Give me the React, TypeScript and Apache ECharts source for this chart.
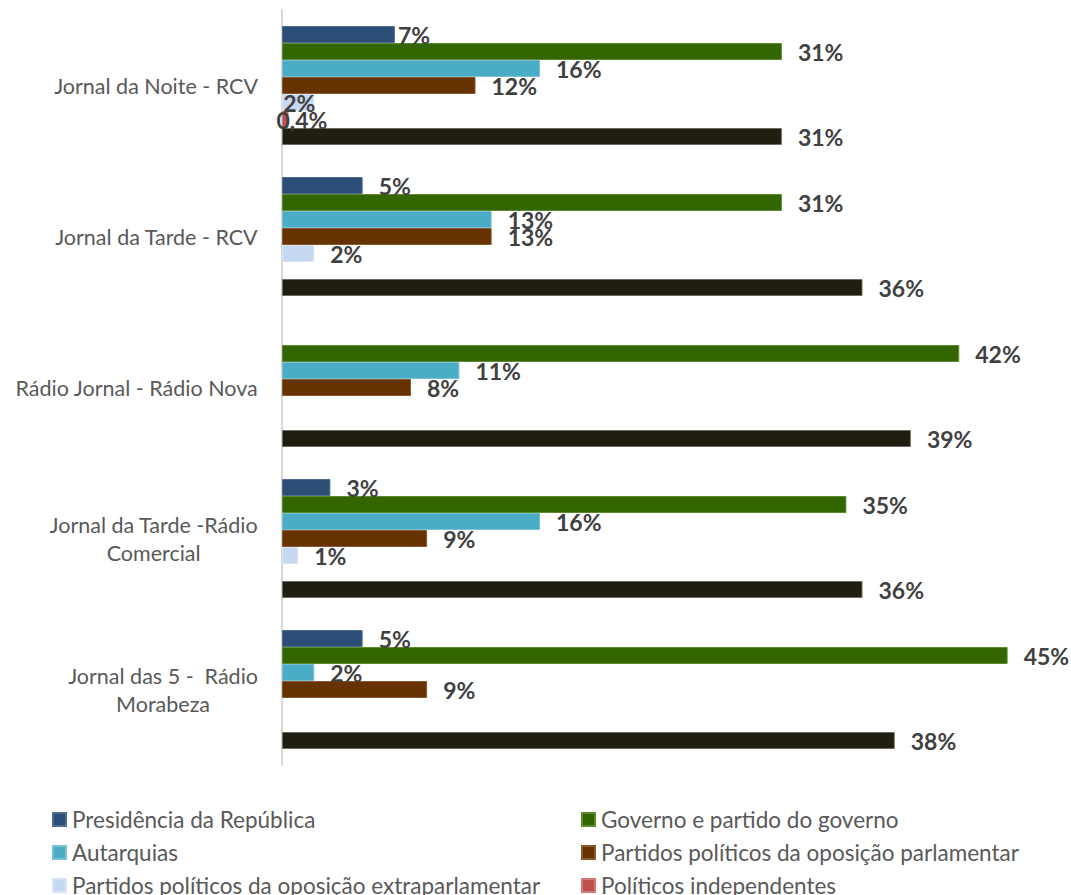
import React, { useEffect, useRef } from "react";
import * as echarts from "echarts";

const categories = [
  "Jornal da Noite - RCV",
  "Jornal da Tarde - RCV",
  "Rádio Jornal - Rádio Nova",
  "Jornal da Tarde -Rádio\nComercial",
  "Jornal das 5 -  Rádio\nMorabeza",
];

const seriesNames = [
  "Presidência da República",
  "Governo e partido do governo",
  "Autarquias",
  "Partidos políticos da oposição parlamentar",
  "Partidos políticos da oposição extraparlamentar",
  "Políticos independentes",
  "Outros",
];

const presidencia = [7, 5, null, 3, 5];
const governo = [31, 31, 42, 35, 45];
const autarquias = [16, 13, 11, 16, 2];
const oposicaoParlamentar = [12, 13, 8, 9, 9];
const oposicaoExtra = [2, 2, null, 1, null];
const independentes = [0.4, null, null, null, null];
const outros = [31, 36, 39, 36, 38];

const seriesValues = [
  presidencia,
  governo,
  autarquias,
  oposicaoParlamentar,
  oposicaoExtra,
  independentes,
  outros,
];

const colors = ["#2C4D75", "#336600", "#4BACC6", "#663300", "#C6D9F1", "#C0504D", "#201D11"];
const borders = ["#4F6C93", "#5E8A2E", "#79C2D6", "#8A5A2E", "#D7E4F5", "#D07A77", "#6E6B62"];

// manual label nudges (series index, category index) -> x offset
const labelNudges: Record<string, number> = { "0-0": -13, "4-0": -47, "5-0": -28 };

const FONT = "Lato, 'Open Sans', sans-serif";

export default function App() {
  const ref = useRef<HTMLDivElement>(null);
  useEffect(() => {
    if (!ref.current) return;
    const chart = echarts.init(ref.current, null, { renderer: "svg" });
    const series = seriesValues.map((vals, si) => ({
      type: "bar",
      name: seriesNames[si],
      barWidth: 17,
      barGap: "0%",
      itemStyle: { color: colors[si], borderColor: borders[si], borderWidth: 1 },
      label: {
        show: true,
        position: "right",
        distance: 16,
        fontFamily: FONT,
        fontSize: 23,
        fontWeight: "bold",
        color: "#404040",
        formatter: (p: any) => `${String(p.value).replace(".", ",")}%`,
      },
      data: vals.map((v, ci) => {
        const nudge = labelNudges[`${si}-${ci}`];
        if (v === null) return null;
        return nudge ? { value: v, label: { offset: [nudge, 0] } } : v;
      }),
    }));
    const legendCommon = {
      orient: "vertical",
      top: 808,
      height: 300,
      padding: 0,
      itemWidth: 13,
      itemHeight: 13,
      itemGap: 10,
      icon: "rect",
      textStyle: { fontFamily: FONT, fontSize: 22.5, color: "#595959", padding: [0, 0, 0, 1], lineHeight: 22 },
    };
    chart.setOption({
      animation: false,
      backgroundColor: "#ffffff",
      grid: { left: 282, top: 10, width: 774, height: 755 },
      xAxis: {
        type: "value",
        min: 0,
        max: 48,
        show: false,
      },
      yAxis: {
        type: "category",
        inverse: true,
        data: categories,
        axisLine: { show: true, lineStyle: { color: "#D9D9D9", width: 2 } },
        axisTick: { show: false },
        splitLine: { show: false },
        axisLabel: {
          margin: 24,
          formatter: (v: string) => v.split("\n").map((l) => `{c|${l}}`).join("\n"),
          rich: {
            c: {
              align: "center",
              fontFamily: FONT,
              fontSize: 21.5,
              color: "#595959",
              lineHeight: 28,
            },
          },
        },
      },
      legend: [
        {
          ...legendCommon,
          left: 52,
          data: [seriesNames[0], seriesNames[2], seriesNames[4]],
        },
        {
          ...legendCommon,
          left: 581,
          data: [seriesNames[1], seriesNames[3], seriesNames[5]],
        },
      ],
      series,
    });
    return () => chart.dispose();
  }, []);
  return (
    <div
      ref={ref}
      style={{ position: "absolute", left: 0, top: 0, width: 1071, height: 895, overflow: "hidden" }}
    />
  );
}
